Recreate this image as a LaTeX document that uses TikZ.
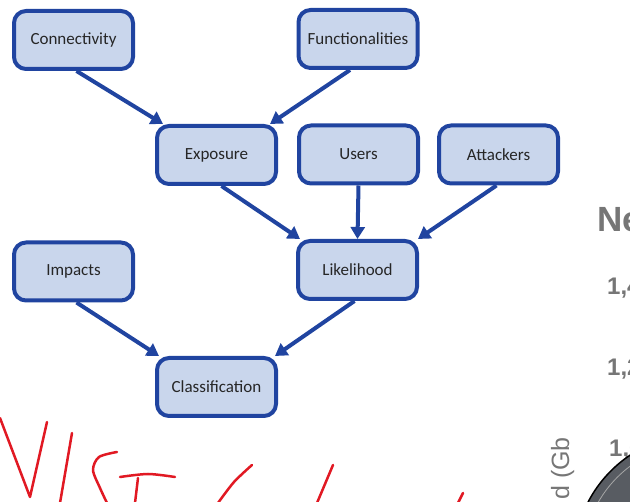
\documentclass[tikz,border=0pt]{standalone}
\usepackage{fontspec}
\setmainfont{Carlito}
\newfontfamily\chartfont{Liberation Sans}
\usetikzlibrary{arrows.meta,calc}
\definecolor{boxblue}{RGB}{32,68,160}
\definecolor{boxfill}{RGB}{201,214,236}
\definecolor{inkred}{RGB}{225,25,35}
\definecolor{chartgrey}{RGB}{118,118,118}
\definecolor{discgrey}{RGB}{88,92,98}
\begin{document}
\begin{tikzpicture}[x=1pt,y=-1pt,
  box/.style={draw=boxblue, fill=boxfill, line width=4pt, rounded corners=12pt,
    minimum width=119pt, minimum height=58pt, inner sep=0pt,
    font=\fontsize{17}{20}\selectfont, text=black!85},
  link/.style={draw=boxblue, line width=4pt, -{Triangle[length=12pt,width=14pt]}},
  ink/.style={draw=inkred, line width=2.5pt, line cap=round, line join=round},
  charttext/.style={inner sep=0pt, text=chartgrey, font=\chartfont\bfseries\fontsize{24}{28}\selectfont}
]
\useasboundingbox (0,0) rectangle (630,502);
\clip (0,0) rectangle (630,502);

% nodes
\node[box] (conn)  at (73.5,40)   {Connectivity};
\node[box] (func)  at (358,39)    {Functionalities};
\node[box] (exp)   at (216.5,155) {Exposure};
\node[box] (users) at (358.5,154.5) {Users};
\node[box] (att)   at (498.5,154.5) {Attackers};
\node[box] (like)  at (357.5,270) {Likelihood};
\node[box] (imp)   at (73.5,271.5) {Impacts};
\node[box] (cls)   at (216.5,387) {Classification};

% connectors
\draw[link] ($(conn.south)+(3,0)$) -- ($(exp.north west)+(8,0)$);
\draw[link] ($(func.south)+(-8,0)$) -- ($(exp.north east)+(-8,0)$);
\draw[link] ($(exp.south)+(5,0)$) -- ($(like.north west)+(4,0)$);
\draw[link] (users.south) -- (like.north);
\draw[link] ($(att.south)+(-2,0)$) -- ($(like.north east)+(-1,0)$);
\draw[link] ($(imp.south)+(3,0)$) -- ($(cls.north west)+(4,0)$);
\draw[link] ($(like.south)+(-3,0)$) -- ($(cls.north east)+(-3,0)$);

% red handwriting
\draw[ink] (0,418) -- (30,497) -- (47,422);
\draw[ink] plot[smooth] coordinates {(72,433) (66,468) (60,503)};
\draw[ink] plot[smooth] coordinates {(117,452) (99,457) (93,470) (100,488) (107,503)};
\draw[ink] plot[smooth] coordinates {(120,477) (148,474) (175,477)};
\draw[ink] (138,478) -- (135,503);
\draw[ink] plot[smooth] coordinates {(252,465) (234,482) (218,503)};
\draw[ink] (333,465) -- (317,503);
\draw[ink] (463,493) -- (458,503);

% partial chart on the right
\node[charttext, anchor=base west, font=\chartfont\bfseries\fontsize{35}{38}\selectfont] (ne) at (597,232) {Ne};
\node[charttext, anchor=base west] (t14) at (607,295) {1,4};
\node[charttext, anchor=base west] (t12) at (607,376) {1,2};
\node[charttext, anchor=base west] (t10) at (609,457) {1,0};
\node[charttext, anchor=base east, rotate=90, font=\chartfont\fontsize{25}{28}\selectfont] (ylab) at (569,437) {d (Gb};
\fill[discgrey] (700,560) circle (126);
\draw[black, line width=1.5pt] (700,560) circle (126);
\draw[gray!70, line width=0.8pt] (700,560) circle (117);
\end{tikzpicture}
\end{document}
